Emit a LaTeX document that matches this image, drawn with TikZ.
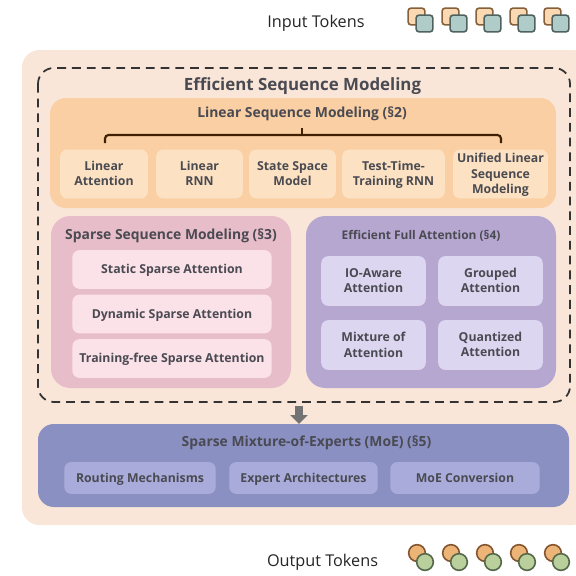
\documentclass[tikz,border=0pt]{standalone}
\usepackage{fontspec}
\setmainfont{Open Sans}
\usetikzlibrary{arrows.meta}
\definecolor{outerbg}{HTML}{F9E6D8}
\definecolor{linearbg}{HTML}{F9CFA3}
\definecolor{linearbox}{HTML}{FCE2C2}
\definecolor{sparsebg}{HTML}{E8BDCA}
\definecolor{sparsebox}{HTML}{FBE1E8}
\definecolor{fullbg}{HTML}{B6A7D0}
\definecolor{fullbox}{HTML}{DDD6F1}
\definecolor{moebg}{HTML}{8B90C3}
\definecolor{moebox}{HTML}{A9ACDB}
\definecolor{labelgray}{HTML}{4A4A52}
\definecolor{inbackfill}{HTML}{FAD8B2}
\definecolor{inbackline}{HTML}{85603A}
\definecolor{infrontfill}{HTML}{AFCCC8}
\definecolor{infrontline}{HTML}{4F625F}
\definecolor{outbackfill}{HTML}{EDB478}
\definecolor{outbackline}{HTML}{85552F}
\definecolor{outfrontfill}{HTML}{B9CF9C}
\definecolor{outfrontline}{HTML}{55684A}
\tikzset{
  inbox/.style={rounded corners=4pt, align=center, font=\fontsize{7pt}{8.9pt}\selectfont\bfseries, text=labelgray, inner sep=0pt, text depth=0.6pt},
  headline/.style={font=\fontsize{7.9pt}{9pt}\selectfont\bfseries, text=labelgray, inner sep=0pt},
  tokentext/.style={font=\fontsize{9.25pt}{11pt}\selectfont, text=black!85, inner sep=0pt},
  intoken/.style={rounded corners=1.6pt, line width=0.9pt, minimum size=9.5pt, inner sep=0pt},
  outtoken/.style={circle, line width=0.9pt, minimum size=9.5pt, inner sep=0pt},
}
\begin{document}
\begin{tikzpicture}[x=0.02cm, y=-0.02cm]
    \useasboundingbox (0,0) rectangle (576,576);

    % Background
    \fill[white] (0,0) rectangle (576,576);
    \fill[outerbg, rounded corners=10pt] (22,50) rectangle (590,525);
    \fill[white] (576,0) rectangle (590,576);

    % Dashed frame
    \draw[black!80, line width=1pt, dash pattern=on 5pt off 3.4pt, rounded corners=9pt] (38,68) rectangle (570,402);
    \node[font=\fontsize{9.6pt}{11pt}\selectfont\bfseries, text=labelgray, inner sep=0pt] (efftitle) at (302.5,86) {Efficient Sequence Modeling};

    % Linear sequence modeling
    \fill[linearbg, rounded corners=9pt] (50,98) rectangle (556,208);
    \node[headline] (lintitle) at (302,113.5) {Linear Sequence Modeling (§2)};
    \node[inbox, fill=linearbox, minimum width=50pt, minimum height=27.8pt] (linattn) at (104,174) {Linear\\Attention};
    \node[inbox, fill=linearbox, minimum width=49.3pt, minimum height=27.8pt] (linrnn) at (199.5,174) {Linear\\RNN};
    \node[inbox, fill=linearbox, minimum width=49.3pt, minimum height=27.8pt] (statespace) at (292.5,174) {State Space\\Model};
    \node[inbox, fill=linearbox, minimum width=58.4pt, minimum height=27.8pt] (testtime) at (393.5,174) {Test-Time-\\Training RNN};
    \node[inbox, fill=linearbox, minimum width=54pt, minimum height=27.8pt] (unified) at (500.5,174) {Unified Linear\\Sequence\\Modeling};

    % Bracket over the boxes
    \coordinate (brleft) at (105,143);
    \coordinate (brright) at (501,143);
    \coordinate (brstem) at (302,128);
    \draw[black!75!orange, line width=1.2pt, rounded corners=2pt] (brleft) -- (105,135) -- (501,135) -- (brright);
    \draw[black!75!orange, line width=1.2pt] (brstem) -- (302,135);

    % Sparse sequence modeling
    \fill[sparsebg, rounded corners=11pt] (51,216) rectangle (291,388);
    \node[headline] (sparsetitle) at (171,236) {Sparse Sequence Modeling (§3)};
    \node[inbox, fill=sparsebox, minimum width=113.4pt, minimum height=22pt] (staticsp) at (172,269.5) {Static Sparse Attention};
    \node[inbox, fill=sparsebox, minimum width=113.4pt, minimum height=22pt] (dynsp) at (172,314) {Dynamic Sparse Attention};
    \node[inbox, fill=sparsebox, minimum width=113.4pt, minimum height=22pt] (trainsp) at (172,358.5) {Training-free Sparse Attention};

    % Efficient full attention
    \fill[fullbg, rounded corners=11pt] (306,216) rectangle (556,388);
    \node[headline, font=\fontsize{6.8pt}{9pt}\selectfont\bfseries] (fulltitle) at (421,236) {Efficient Full Attention (§4)};
    \node[inbox, fill=fullbox, minimum width=59.5pt, minimum height=28.3pt] (ioaware) at (373.5,281) {IO-Aware\\Attention};
    \node[inbox, fill=fullbox, minimum width=59.5pt, minimum height=28.3pt] (grouped) at (490.5,281) {Grouped\\Attention};
    \node[inbox, fill=fullbox, minimum width=59.5pt, minimum height=28.3pt] (mixture) at (373.5,345) {Mixture of\\Attention};
    \node[inbox, fill=fullbox, minimum width=59.5pt, minimum height=28.3pt] (quantized) at (490.5,345) {Quantized\\Attention};

    % Sparse MoE
    \fill[moebg, rounded corners=9pt] (38,424) rectangle (569,507);
    \node[headline] (moetitle) at (306.5,443) {Sparse Mixture-of-Experts (MoE) (§5)};
    \node[inbox, fill=moebox, minimum width=86.2pt, minimum height=18.1pt] (routing) at (140,478) {Routing Mechanisms};
    \node[inbox, fill=moebox, minimum width=84.5pt, minimum height=18.1pt] (expert) at (303.5,478) {Expert Architectures};
    \node[inbox, fill=moebox, minimum width=85pt, minimum height=18.1pt] (conversion) at (465,478) {MoE Conversion};

    % Arrow into MoE
    \coordinate (flowtop) at (299,406);
    \coordinate (flowtip) at (299,424);
    \draw[-{Triangle[length=5pt, width=9.5pt]}, black!55, line width=4.6pt] (flowtop) -- (flowtip);

    % Tokens
    \node[tokentext] (inputlabel) at (316,23) {Input Tokens};
    \node[tokentext] (outputlabel) at (322.5,562) {Output Tokens};
    \foreach \i in {0,...,4} {
        \node[intoken, draw=inbackline, fill=inbackfill] (inback\i) at (416.5+34*\i,16.5) {};
        \node[intoken, draw=infrontline, fill=infrontfill] (infront\i) at (424.5+34*\i,23.5) {};
        \node[outtoken, draw=outbackline, fill=outbackfill] (outback\i) at (417+34*\i,553) {};
        \node[outtoken, draw=outfrontline, fill=outfrontfill] (outfront\i) at (425+34*\i,562) {};
    }
\end{tikzpicture}
\end{document}
